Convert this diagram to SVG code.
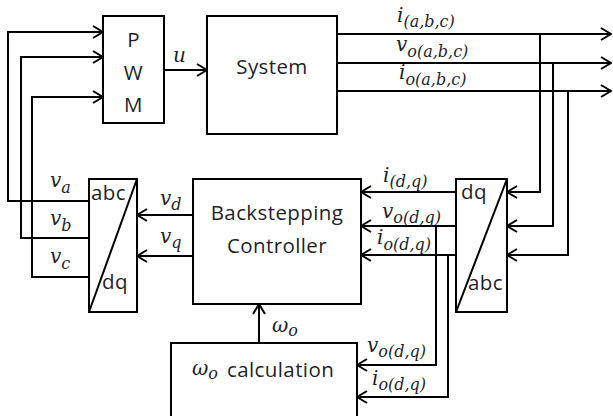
<svg xmlns="http://www.w3.org/2000/svg" width="613" height="416" viewBox="0 0 613 416">
<style>
.box{fill:#fff;stroke:#000;stroke-width:2}
.ln{fill:none;stroke:#000;stroke-width:2}
.arr{marker-end:url(#ah)}
.t{font-family:"Open Sans","Liberation Sans",sans-serif;font-size:20.5px;letter-spacing:0.4px;fill:#1f1f2a}
.m{font-family:"DejaVu Serif","Liberation Serif",serif;font-style:italic;font-size:20px;fill:#1f1f2a}
.s{font-size:16px}
</style>
<defs>
<marker id="ah" viewBox="0 0 12 14" refX="11" refY="7" markerWidth="12" markerHeight="14" orient="auto" markerUnits="userSpaceOnUse">
<path d="M1,1 L11,7 L1,13" fill="none" stroke="#000" stroke-width="2"/>
</marker>
</defs>
<rect width="613" height="416" fill="#fff"/>
<g id="connectors">
<polyline class="ln arr" points="89,201 8,201 8,32 103,32"/>
<polyline class="ln arr" points="89,238 21,238 21,57 103,57"/>
<polyline class="ln arr" points="89,277 32,277 32,97 103,97"/>
<polyline class="ln arr" points="164,70 207,70"/>
<polyline class="ln arr" points="337,34 611,34"/>
<polyline class="ln arr" points="337,63 611,63"/>
<polyline class="ln arr" points="337,91 611,91"/>
<polyline class="ln arr" points="540,34 540,192 507,192"/>
<polyline class="ln arr" points="553,63 553,226 507,226"/>
<polyline class="ln arr" points="568,91 568,255 507,255"/>
<polyline class="ln arr" points="456,192 361,192"/>
<polyline class="ln arr" points="456,226 361,226"/>
<polyline class="ln arr" points="456,255 361,255"/>
<polyline class="ln arr" points="436,226 436,365 357,365"/>
<polyline class="ln arr" points="448,255 448,397 357,397"/>
<polyline class="ln arr" points="193,215 137,215"/>
<polyline class="ln arr" points="193,256 137,256"/>
<polyline class="ln arr" points="259,343 259,304"/>
</g>
<g id="labels">
<text class="m" x="173" y="62">u</text>
<text class="m" x="397" y="22">i<tspan class="s" dy="5">(a,b,c)</tspan></text>
<text class="m" x="396" y="51">v<tspan class="s" dy="6">o(a,b,c)</tspan></text>
<text class="m" x="399" y="79">i<tspan class="s" dy="6">o(a,b,c)</tspan></text>
<text class="m" x="50" y="187">v<tspan class="s" dy="6">a</tspan></text>
<text class="m" x="50" y="225">v<tspan class="s" dy="6">b</tspan></text>
<text class="m" x="50" y="263">v<tspan class="s" dy="6">c</tspan></text>
<text class="m" x="160" y="205">v<tspan class="s" dy="5">d</tspan></text>
<text class="m" x="160" y="243">v<tspan class="s" dy="5">q</tspan></text>
<text class="m" x="383" y="182">i<tspan class="s" dy="5">(d,q)</tspan></text>
<text class="m" x="382" y="218">v<tspan class="s" dy="5">o(d,q)</tspan></text>
<text class="m" x="377" y="244">i<tspan class="s" dy="6">o(d,q)</tspan></text>
<text class="m" x="272" y="332">ω<tspan class="s" dy="4">o</tspan></text>
<text class="m" x="367" y="352">v<tspan class="s" dy="5">o(d,q)</tspan></text>
<text class="m" x="372" y="385">i<tspan class="s" dy="5">o(d,q)</tspan></text>
</g>
<g id="pwm">
<rect class="box" x="103" y="16" width="61" height="107"/>
<text class="t" x="133.5" y="47" text-anchor="middle">P</text>
<text class="t" x="133.5" y="80" text-anchor="middle">W</text>
<text class="t" x="133.5" y="112" text-anchor="middle">M</text>
</g>
<g id="system">
<rect class="box" x="207" y="16" width="130" height="118"/>
<text class="t" x="272" y="74" text-anchor="middle">System</text>
</g>
<g id="abc-dq">
<rect class="box" x="89" y="179" width="48" height="133"/>
<line class="ln" x1="89" y1="312" x2="137" y2="179"/>
<text class="t" x="91" y="200">abc</text>
<text class="t" x="102" y="289">dq</text>
</g>
<g id="controller">
<rect class="box" x="193" y="179" width="168" height="125"/>
<text class="t" x="277" y="220" text-anchor="middle">Backstepping</text>
<text class="t" x="277" y="253" text-anchor="middle">Controller</text>
</g>
<g id="dq-abc">
<rect class="box" x="456" y="179" width="51" height="133"/>
<line class="ln" x1="456" y1="312" x2="507" y2="179"/>
<text class="t" x="461" y="199">dq</text>
<text class="t" x="468" y="290">abc</text>
</g>
<g id="omega-calc">
<rect class="box" x="171" y="343" width="186" height="90"/>
<text class="m" x="192" y="375">ω<tspan class="s" dy="4">o</tspan></text>
<text class="t" x="227" y="377">calculation</text>
</g>
</svg>
